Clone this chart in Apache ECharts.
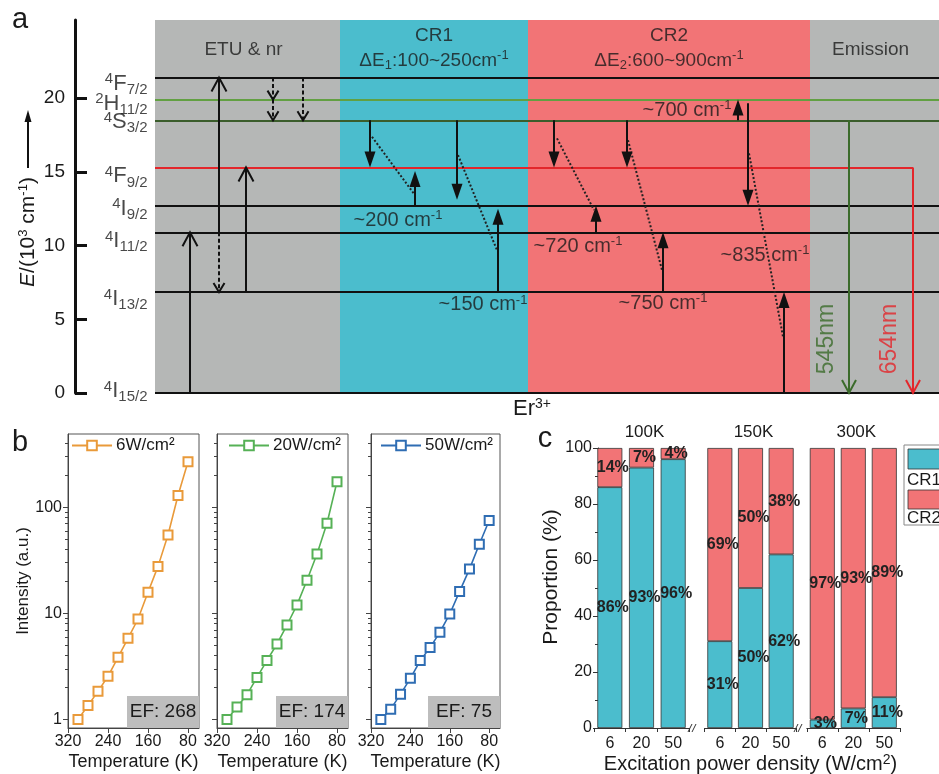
<!DOCTYPE html>
<html>
<head>
<meta charset="utf-8">
<script src="https://cdn.jsdelivr.net/npm/echarts@6.0.0/dist/echarts.min.js"></script>
<style>
html,body{margin:0;padding:0;background:#ffffff;}
#chart{width:939px;height:774px;}
</style>
</head>
<body>
<div id="chart"></div>
<script>
// ================= DATA =================
// Panel a: Er3+ energy level scheme (energies in 10^3 cm^-1 as drawn)
const levelNames = ['4I15/2', '4I13/2', '4I11/2', '4I9/2', '4F9/2', '4S3/2', '2H11/2', '4F7/2'];
const levelEnergies = [0, 6.85, 10.9, 12.7, 15.3, 18.5, 19.9, 21.4];
const energyTicks = [0, 5, 10, 15, 20];
const regionNames = ['ETU & nr', 'CR1', 'CR2', 'Emission'];
const regionSubtitles = ['', 'ΔE{sub|1}:100~250cm{sup|-1}', 'ΔE{sub|2}:600~900cm{sup|-1}', ''];
const regionSpans = [[80, 265], [265, 453], [453, 735], [735, 864]]; // scheme x units
const etuArrows = [[115, '4I15/2', '4I11/2'], [144, '4I11/2', '4F7/2'], [171, '4I13/2', '4F9/2']];
const nrArrows = [[144, '4I11/2', '4I13/2'], [198, '4F7/2', '2H11/2'], [198, '2H11/2', '4S3/2'], [228, '4F7/2', '4S3/2']];
const crArrows = [[295, '4S3/2', '4F9/2'], [340, '4I9/2', 15.05], [382, '4S3/2', 13.1], [423, '4I13/2', 12.5],
                  [479, '4S3/2', '4F9/2'], [521, '4I11/2', '4I9/2'], [552, '4S3/2', '4F9/2'], [588, '4I13/2', '4I11/2'],
                  [663, '4S3/2', '2H11/2'], [673, 19.66, '4I9/2'], [709, '4I15/2', '4I13/2']];
const phononLinks = [[297, 17.38, 340, 13.42], [383, 16.14, 422, 9.69], [482, 17.27, 519, 12.41],
                     [553, 17.15, 587, 8.34], [674, 16.25, 708, 3.82]];
const emissionArrows = [[774, '4S3/2', '4I15/2', 0], [838, '4F9/2', '4I15/2', 1]];
const emissionLabels = ['545nm', '654nm'];
const emissionLabelAnchors = [[752, 3.66], [815, 3.66]];
const gapLabels = ['~200 cm{sup|-1}', '~150 cm{sup|-1}', '~720 cm{sup|-1}', '~750 cm{sup|-1}', '~700 cm{sup|-1}', '~835 cm{sup|-1}'];
const gapLabelAnchors = [[323, 11.73], [408, 5.97], [503, 9.92], [588, 6.10], [612, 19.19], [690, 9.36]];

// Panel b: intensity vs temperature
const temperatures = [300, 280, 260, 240, 220, 200, 180, 160, 140, 120, 100, 80];
const intensity6 = [1.0, 1.35, 1.84, 2.55, 3.85, 5.81, 8.84, 15.8, 27.7, 54.8, 129, 268];
const intensity20 = [1.0, 1.31, 1.71, 2.49, 3.60, 5.14, 7.76, 12.0, 20.5, 36.3, 70.6, 174];
const intensity50 = [1.0, 1.25, 1.73, 2.44, 3.59, 4.75, 6.64, 9.86, 16.1, 26.1, 44.8, 75];
const powerNames = ['6W/cm²', '20W/cm²', '50W/cm²'];
const efValues = [268, 174, 75];
const tempTicks = [320, 240, 160, 80];
const intensityTicks = [1, 10, 100];
const intensityMinorTicks = [2, 3, 4, 5, 6, 7, 8, 9, 20, 30, 40, 50, 60, 70, 80, 90, 200, 300, 400];

// Panel c: CR1 / CR2 proportions
const tempGroups = ['100K', '150K', '300K'];
const powerCats = ['6', '20', '50'];
const cr1Share = [[86, 93, 96], [31, 50, 62], [3, 7, 11]];
const cr2Share = [[14, 7, 4], [69, 50, 38], [97, 93, 89]];

// ================= BUILD =================
const FONT = "'Liberation Sans', Arial, Helvetica, sans-serif";
const TXT = '#1a1a1a';
const yMaxA = 25.3;
const E = v => (typeof v === 'number' ? v : levelEnergies[levelNames.indexOf(v)]);
const regionColors = ['#b5b7b6', '#4bbdcd', '#f27476', '#b5b7b6'];
const levelColors = {'4F9/2': '#e3262b', '4S3/2': '#3b5d2c', '2H11/2': '#62a042'};
const levelLabelShift = [-2, 7, 9, 3, 9, 2, 4, 6];
const emissionColors = ['#3b6b2b', '#e3262b'];
const bColors = ['#e99a3a', '#56b156', '#2f6db3'];
const cyan = '#4bbdcd', salmon = '#f27476';

function arrowSeries(name, data, opt) {
  return {
    type: 'custom', name: name, xAxisIndex: 0, yAxisIndex: 0, silent: true, z: 5,
    data: data.map(d => [d[0], E(d[1]), E(d[2]), d[3] || 0]),
    renderItem: function (params, api) {
      const x = api.value(0);
      const a = api.coord([x, api.value(1)]);
      const b = api.coord([x, api.value(2)]);
      const dir = b[1] > a[1] ? 1 : -1;
      const color = opt.colors ? opt.colors[api.value(3)] : '#111';
      const hl = opt.hl, hw = opt.hw;
      const children = [];
      if (opt.filled) {
        children.push({type: 'line', shape: {x1: a[0], y1: a[1], x2: b[0], y2: b[1] - dir * (hl - 2)},
          style: {stroke: color, lineWidth: opt.lw}});
        children.push({type: 'polygon', shape: {points: [[b[0], b[1]], [b[0] - hw, b[1] - dir * hl], [b[0] + hw, b[1] - dir * hl]]},
          style: {fill: color}});
      } else {
        const ls = {stroke: color, lineWidth: opt.lw};
        if (opt.dash) ls.lineDash = opt.dash;
        children.push({type: 'line', shape: {x1: a[0], y1: a[1], x2: b[0], y2: b[1]}, style: ls});
        children.push({type: 'polyline', shape: {points: [[b[0] - hw, b[1] - dir * hl], [b[0], b[1]], [b[0] + hw, b[1] - dir * hl]]},
          style: {stroke: color, lineWidth: opt.lw, fill: null}});
      }
      return {type: 'group', children: children};
    }
  };
}

function textSeries(name, items, base) {
  return {
    type: 'scatter', name: name, xAxisIndex: 0, yAxisIndex: 0, symbolSize: 1, silent: true, z: 10,
    itemStyle: {color: 'rgba(0,0,0,0)'},
    label: Object.assign({show: true, position: 'inside', fontFamily: FONT, color: TXT}, base),
    data: items
  };
}

const supSub = (fs, pad) => ({
  sup: {fontSize: fs, fontFamily: FONT, color: TXT, padding: [0, 0, pad, 0]},
  sub: {fontSize: fs, fontFamily: FONT, color: TXT, padding: [pad, 0, 0, 0]}
});

// ---- panel a text items
const titleItems = [];
regionNames.forEach((n, i) => {
  const cx = (regionSpans[i][0] + regionSpans[i][1]) / 2;
  if (regionSubtitles[i]) {
    titleItems.push({value: [cx, 24.2], label: {formatter: n}});
    titleItems.push({value: [cx, 22.55], label: {formatter: regionSubtitles[i]}});
  } else {
    titleItems.push({value: [cx - 4, 23.27], label: {formatter: n}});
  }
});
const gapItems = gapLabels.map((t, i) => ({value: gapLabelAnchors[i], label: {formatter: t}}));
const emisItems = emissionLabels.map((t, i) => ({value: emissionLabelAnchors[i],
  label: {formatter: t, rotate: 90, color: emissionColors[i], fontSize: 23}}));
const levelItems = levelNames.map((n, i) => ({
  value: [75, E(n)],
  label: {formatter: '{sup|' + n[0] + '}{m|' + n[1] + '}{sub|' + n.slice(2) + '}', offset: [0, levelLabelShift[i]]}
}));

const series = [];
// backgrounds
series.push({
  type: 'custom', name: 'regions', xAxisIndex: 0, yAxisIndex: 0, silent: true, z: 1,
  data: regionSpans.map((s, i) => [s[0], s[1], i]),
  renderItem: function (params, api) {
    const p0 = api.coord([api.value(0), yMaxA]);
    const p1 = api.coord([api.value(1), 0]);
    return {type: 'rect', shape: {x: p0[0], y: p0[1], width: p1[0] - p0[0], height: p1[1] - p0[1]},
      style: {fill: regionColors[api.value(2)]}};
  }
});
// level lines
series.push({
  type: 'lines', name: 'levels', coordinateSystem: 'cartesian2d', xAxisIndex: 0, yAxisIndex: 0, silent: true, z: 3,
  lineStyle: {width: 2, color: '#111', opacity: 1},
  data: levelNames.map(n => ({
    coords: [[regionSpans[0][0], E(n)], [n === '4F9/2' ? emissionArrows[1][0] : regionSpans[3][1], E(n)]],
    lineStyle: {color: levelColors[n] || '#111'}
  }))
});
// dotted phonon links
series.push({
  type: 'lines', name: 'phonon', coordinateSystem: 'cartesian2d', xAxisIndex: 0, yAxisIndex: 0, silent: true, z: 4,
  lineStyle: {width: 2, color: '#222', type: [2, 2], opacity: 1},
  data: phononLinks.map(l => ({coords: [[l[0], l[1]], [l[2], l[3]]]}))
});
series.push(arrowSeries('etu', etuArrows, {hl: 14, hw: 7.5, lw: 2}));
series.push(arrowSeries('nr', nrArrows, {hl: 9, hw: 5.5, lw: 2, dash: [4, 2.5]}));
series.push(arrowSeries('cr', crArrows, {hl: 16, hw: 5.5, lw: 2, filled: true}));
series.push(arrowSeries('emission', emissionArrows, {hl: 13, hw: 7, lw: 2, colors: emissionColors}));
series.push(textSeries('titles', titleItems, {fontSize: 19, rich: supSub(13, 10)}));
series.push(textSeries('gaps', gapLabels.length ? gapItems : [], {fontSize: 20, rich: supSub(13, 10)}));
series.push(textSeries('emisLabels', emisItems, {fontSize: 23}));
series.push(textSeries('levelLabels', levelItems, {
  position: 'left', distance: 2, fontSize: 22,
  rich: {
    m: {fontSize: 22, fontFamily: FONT, color: TXT},
    sup: {fontSize: 15, fontFamily: FONT, color: TXT, padding: [0, 0, 9, 0]},
    sub: {fontSize: 15, fontFamily: FONT, color: TXT, padding: [12, 0, 0, 0]}
  }
}));

// ---- panel b series
[intensity6, intensity20, intensity50].forEach((arr, i) => {
  series.push({
    type: 'line', name: powerNames[i], xAxisIndex: 1 + i, yAxisIndex: 1 + i,
    data: temperatures.map((t, j) => [t, arr[j]]),
    symbol: 'emptyRect', symbolSize: 9,
    lineStyle: {width: 1.6, color: bColors[i]},
    itemStyle: {color: bColors[i], borderColor: bColors[i], borderWidth: 1.6},
    z: 3
  });
});

// ---- panel c series
tempGroups.forEach((g, gi) => {
  const lbl = {show: true, position: 'inside', formatter: '{c}%', fontFamily: FONT, fontWeight: 'bold',
    fontSize: 16, color: '#222', textBorderWidth: 0, offset: [3, 0]};
  series.push({type: 'bar', name: 'CR1', stack: 'g' + gi, xAxisIndex: 4 + gi, yAxisIndex: 7 + gi,
    data: cr1Share[gi], barWidth: 25,
    itemStyle: {color: cyan, borderColor: '#333', borderWidth: 0.8}, label: lbl});
  series.push({type: 'bar', name: 'CR2', stack: 'g' + gi, xAxisIndex: 4 + gi, yAxisIndex: 7 + gi,
    data: cr2Share[gi], barWidth: 25,
    itemStyle: {color: salmon, borderColor: '#333', borderWidth: 0.8}, label: lbl});
});

// ---- grids
const bGrids = [[68, 131], [217, 131], [371, 129]];
const cGrids = [[594, 95], [704.5, 92], [806.8, 93]];
const grid = [{left: 75, top: 20, width: 864, height: 373, outerBoundsMode: 'none'}];
bGrids.forEach(g => grid.push({left: g[0], top: 434, width: g[1], height: 294, show: true,
  borderColor: '#555', borderWidth: 1, backgroundColor: 'transparent', outerBoundsMode: 'none'}));
cGrids.forEach(g => grid.push({left: g[0], top: 448, width: g[1], height: 280, outerBoundsMode: 'none'}));

const axisTxt = {fontFamily: FONT, color: TXT};
const xAxis = [{type: 'value', gridIndex: 0, min: 0, max: 864, show: false}];
bGrids.forEach((g, i) => xAxis.push({
  type: 'value', gridIndex: 1 + i, min: 58, max: 320, inverse: true,
  axisLine: {show: true, lineStyle: {color: '#444', width: 1}},
  axisTick: {show: true, length: 5, customValues: tempTicks, lineStyle: {color: '#444'}},
  axisLabel: Object.assign({customValues: tempTicks, fontSize: 16, margin: 6}, axisTxt),
  splitLine: {show: false},
  name: 'Temperature (K)', nameLocation: 'middle', nameGap: 25,
  nameTextStyle: {fontFamily: FONT, color: TXT, fontSize: 18}
}));
cGrids.forEach((g, i) => xAxis.push({
  type: 'category', gridIndex: 4 + i, data: powerCats,
  axisLine: {show: true, lineStyle: {color: '#333', width: 1}},
  axisTick: {show: true, length: 4, lineStyle: {color: '#333'}},
  axisLabel: Object.assign({fontSize: 16, margin: 8}, axisTxt),
  splitLine: {show: false},
  name: i === 1 ? '{a|Excitation power density (W/cm}{s|2}{a|)}' : '',
  nameLocation: 'middle', nameGap: 23,
  nameTextStyle: {fontFamily: FONT, color: TXT, fontSize: 20,
    rich: {a: {fontSize: 20, fontFamily: FONT, color: TXT}, s: {fontSize: 14, fontFamily: FONT, color: TXT, padding: [0, 0, 10, 0]}}}
}));

const yAxis = [{
  type: 'value', gridIndex: 0, min: 0, max: yMaxA,
  axisLine: {show: true, lineStyle: {color: '#111', width: 3}},
  axisTick: {show: true, inside: true, length: 12, customValues: energyTicks, lineStyle: {color: '#111', width: 3}},
  axisLabel: Object.assign({customValues: energyTicks, fontSize: 19, margin: 10}, axisTxt),
  splitLine: {show: false}
}];
bGrids.forEach((g, i) => yAxis.push({
  type: 'log', logBase: 10, gridIndex: 1 + i, min: 0.83, max: 490,
  axisLine: {show: true, lineStyle: {color: '#444', width: 1}},
  axisTick: {show: true, length: 5, customValues: intensityTicks, lineStyle: {color: '#444'}},
  axisLabel: Object.assign({show: i === 0, customValues: intensityTicks, fontSize: 16, margin: 6}, axisTxt),
  splitLine: {show: false}, minorTick: {show: false}, minorSplitLine: {show: false},
  name: i === 0 ? 'Intensity (a.u.)' : '', nameLocation: 'middle', nameGap: 36,
  nameTextStyle: {fontFamily: FONT, color: TXT, fontSize: 17}
}));
bGrids.forEach((g, i) => yAxis.push({
  type: 'log', logBase: 10, gridIndex: 1 + i, min: 0.83, max: 490, position: 'left', offset: 0,
  axisLine: {show: false},
  axisTick: {show: true, length: 3, customValues: intensityMinorTicks, lineStyle: {color: '#444'}},
  axisLabel: {show: false}, splitLine: {show: false}
}));
cGrids.forEach((g, i) => yAxis.push(i === 0 ? {
  type: 'value', gridIndex: 4, min: 0, max: 100, interval: 20, offset: -4,
  axisLine: {show: true, lineStyle: {color: '#333', width: 1}},
  axisTick: {show: true, length: 5, lineStyle: {color: '#333'}},
  minorTick: {show: true, splitNumber: 2, length: 3, lineStyle: {color: '#333'}},
  axisLabel: Object.assign({fontSize: 16, margin: 6}, axisTxt),
  splitLine: {show: false},
  name: 'Proportion (%)', nameLocation: 'middle', nameGap: 32,
  nameTextStyle: {fontFamily: FONT, color: TXT, fontSize: 21, padding: [0, 0, 0, 22]}
} : {type: 'value', gridIndex: 4 + i, min: 0, max: 100, show: false, splitLine: {show: false}}));

// ---- legends (panel b)
const legendLefts = [71, 228, 380];
const legend = powerNames.map((n, i) => ({
  data: [n], left: legendLefts[i], top: 437, padding: 0, itemWidth: 40, itemHeight: 12, itemGap: 4,
  selectedMode: false, textStyle: {fontFamily: FONT, color: TXT, fontSize: 17, padding: [0, 0, 0, -1]}
}));

// ---- graphic decorations
const txt = (x, y, text, fs, extra) => ({
  type: 'text', x: x, y: y, silent: true, z: 100,
  style: Object.assign({text: text, fontSize: fs, fontFamily: FONT, fill: TXT,
    align: 'center', verticalAlign: 'middle', textAlign: 'center', textVerticalAlign: 'middle'}, extra || {})
});
const graphic = [];
graphic.push(txt(20, 20, 'a', 29));
graphic.push(txt(20, 443, 'b', 29));
graphic.push(txt(545, 439, 'c', 29));
graphic.push(txt(532, 409, '{m|Er}{s|3+}', 22, {rich: {m: {fontSize: 22, fontFamily: FONT, fill: TXT, color: TXT},
  s: {fontSize: 14, fontFamily: FONT, fill: TXT, color: TXT, padding: [0, 0, 10, 0]}}}));
const yname = txt(28, 232, '{i|E}/(10{s|3} cm{s|-1})', 21, {rich: {
  i: {fontSize: 21, fontStyle: 'italic', fontFamily: FONT, fill: TXT, color: TXT},
  s: {fontSize: 13, fontFamily: FONT, fill: TXT, color: TXT, padding: [0, 0, 10, 0]}}});
yname.rotation = Math.PI / 2;
graphic.push(yname);
graphic.push({type: 'line', silent: true, shape: {x1: 28, y1: 168, x2: 28, y2: 120}, style: {stroke: '#111', lineWidth: 2}});
graphic.push({type: 'polygon', silent: true, shape: {points: [[28, 110], [24.5, 122], [31.5, 122]]}, style: {fill: '#111'}});
// EF boxes
bGrids.forEach((g, i) => {
  const right = g[0] + g[1];
  graphic.push({type: 'rect', silent: true, z: 50, shape: {x: right - 72, y: 696, width: 72, height: 32}, style: {fill: '#bdbdbd'}});
  graphic.push(txt(right - 36, 712, 'EF: ' + efValues[i], 19));
});
// panel c group titles
cGrids.forEach((g, i) => graphic.push(txt(g[0] + g[1] / 2 + 3, 432, tempGroups[i], 17)));
// axis break marks
[692, 798].forEach(x => {
  graphic.push({type: 'line', silent: true, shape: {x1: x - 4, y1: 732, x2: x, y2: 724}, style: {stroke: '#333', lineWidth: 1}});
  graphic.push({type: 'line', silent: true, shape: {x1: x, y1: 732, x2: x + 4, y2: 724}, style: {stroke: '#333', lineWidth: 1}});
});
// panel c legend
graphic.push({type: 'rect', silent: true, shape: {x: 904, y: 445, width: 50, height: 80}, style: {fill: 'none', stroke: '#888', lineWidth: 1}});
graphic.push({type: 'rect', silent: true, shape: {x: 908, y: 449, width: 40, height: 20}, style: {fill: cyan, stroke: '#333', lineWidth: 0.8}});
graphic.push(txt(907, 480, 'CR1', 17, {align: 'left', textAlign: 'left'}));
graphic.push({type: 'rect', silent: true, shape: {x: 908, y: 490, width: 40, height: 19}, style: {fill: salmon, stroke: '#333', lineWidth: 0.8}});
graphic.push(txt(907, 518, 'CR2', 17, {align: 'left', textAlign: 'left'}));

const option = {
  animation: false,
  backgroundColor: '#ffffff',
  textStyle: {fontFamily: FONT},
  grid: grid, xAxis: xAxis, yAxis: yAxis, legend: legend,
  series: series, graphic: graphic
};
const chart = echarts.init(document.getElementById('chart'), null, {renderer: 'canvas'});
chart.setOption(option);
</script>
</body>
</html>
